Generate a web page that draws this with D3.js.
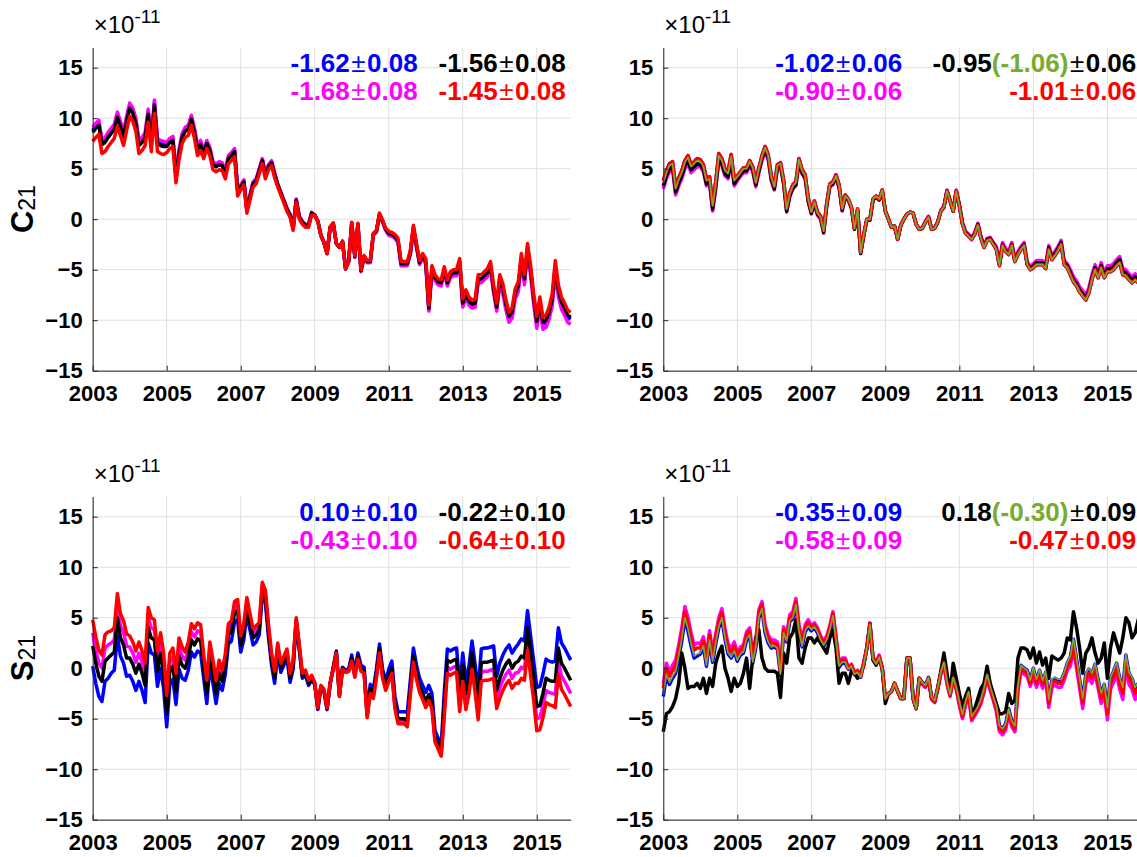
<!DOCTYPE html>
<html>
<head>
<meta charset="utf-8">
<script src="https://cdn.jsdelivr.net/npm/d3@7"></script>
<style>
  html, body { margin: 0; padding: 0; background: #ffffff; }
  svg { display: block; font-family: "Liberation Sans", Arial, Helvetica, sans-serif; }
  .expo { font-size: 24px; }
  .expo .pow { font-size: 19px; }
  .ylab .sub { font-size: 23px; }
</style>
</head>
<body>
<svg id="chart" width="1137" height="857"></svg>
<script>
// Monthly series, Jan 2003 .. Dec 2015, units of 1e-11
const startYear = 2003;
const xTickYears = [2003, 2005, 2007, 2009, 2011, 2013, 2015];
const yTickValues = [-15, -10, -5, 0, 5, 10, 15];
const yDomain = [-15, 17];

// ---- C21, left solution ----
const c21LBlue = [
  8.8, 9.2, 9.5, 7.6, 7.8, 8.3, 8.7, 9.1, 10.3, 9.4, 8.4, 9.9,
  11.2, 10.7, 9.7, 7.5, 7.8, 8.3, 10.6, 7.7, 11.5, 7.7, 7.5, 7.4,
  7.4, 7.8, 8.0, 4.4, 6.7, 8.3, 8.9, 9.1, 10.1, 8.8, 7.1, 7.6,
  6.6, 7.6, 6.9, 5.5, 5.3, 5.5, 5.4, 4.6, 6.1, 6.4, 6.8, 2.9,
  3.3, 3.8, 1.0, 2.3, 3.6, 3.9, 4.9, 5.9, 4.4, 5.3, 5.7, 4.5,
  3.4, 2.6, 1.8, 1.0, 0.4, -0.9, 1.9, 0.2, -0.3, -0.6, -0.6, 0.6,
  0.4, -0.2, -1.6, -2.3, -3.4, -0.8, -0.4, -2.4, -2.8, -2.2, -4.9, -4.2,
  -0.4, -3.7, -0.5, -5.1, -3.7, -4.2, -4.2, -1.5, -1.2, 0.5, -0.2, -1.0,
  -1.5, -1.6, -1.8, -2.2, -4.5, -4.5, -4.5, -3.4, -0.9, -2.7, -4.4, -3.7,
  -4.3, -8.9, -5.0, -5.9, -6.3, -6.4, -5.1, -6.4, -5.6, -5.4, -5.4, -4.3,
  -8.4, -7.5, -8.2, -8.5, -8.4, -6.0, -6.0, -5.7, -5.4, -4.7, -7.0, -8.8,
  -6.1, -7.0, -8.6, -9.8, -9.4, -7.5, -6.8, -4.0, -6.1, -3.0, -5.2, -8.0,
  -10.3, -8.4, -10.4, -10.2, -9.4, -8.1, -4.8, -7.2, -8.4, -9.0, -9.7, -9.9
];
const c21LMagenta = [
  9.1, 9.5, 9.8, 7.9, 8.1, 8.6, 9.0, 9.4, 10.6, 9.7, 8.7, 10.2,
  11.5, 11.0, 10.0, 7.8, 8.1, 8.6, 10.9, 8.0, 11.8, 8.0, 7.8, 7.7,
  7.6, 8.0, 8.2, 4.6, 6.9, 8.5, 9.1, 9.3, 10.3, 9.0, 7.3, 7.8,
  6.8, 7.8, 7.1, 5.7, 5.5, 5.7, 5.6, 4.8, 6.3, 6.6, 7.0, 3.1,
  3.4, 3.9, 1.1, 2.4, 3.7, 4.0, 5.0, 6.0, 4.5, 5.4, 5.8, 4.6,
  3.5, 2.7, 1.9, 1.1, 0.5, -0.8, 2.0, 0.3, -0.2, -0.5, -0.5, 0.7,
  0.4, -0.2, -1.6, -2.3, -3.4, -0.8, -0.4, -2.4, -2.8, -2.2, -4.9, -4.2,
  -0.5, -3.8, -0.6, -5.2, -3.8, -4.3, -4.3, -1.6, -1.3, 0.4, -0.3, -1.1,
  -1.6, -1.7, -1.9, -2.3, -4.6, -4.6, -4.6, -3.5, -1.0, -2.8, -4.5, -3.8,
  -4.5, -9.1, -5.2, -6.1, -6.5, -6.6, -5.3, -6.6, -5.8, -5.6, -5.6, -4.5,
  -8.7, -7.8, -8.5, -8.8, -8.7, -6.3, -6.3, -6.0, -5.7, -5.0, -7.3, -9.1,
  -6.5, -7.4, -9.0, -10.2, -9.8, -7.9, -7.2, -4.4, -6.5, -3.4, -5.6, -8.4,
  -10.8, -8.9, -10.9, -10.7, -9.9, -8.6, -5.3, -7.7, -8.9, -9.5, -10.2, -10.4
];
const c21LBlack = [
  8.6, 9.0, 9.3, 7.4, 7.6, 8.1, 8.5, 8.9, 10.1, 9.2, 8.2, 9.7,
  11.0, 10.5, 9.5, 7.3, 7.6, 8.1, 10.4, 7.5, 11.3, 7.5, 7.3, 7.2,
  7.2, 7.6, 7.8, 4.2, 6.5, 8.1, 8.7, 8.9, 9.9, 8.6, 6.9, 7.4,
  6.5, 7.5, 6.8, 5.4, 5.2, 5.4, 5.3, 4.5, 6.0, 6.3, 6.7, 2.8,
  3.2, 3.7, 0.9, 2.2, 3.5, 3.8, 4.8, 5.8, 4.3, 5.2, 5.6, 4.4,
  3.4, 2.6, 1.8, 1.0, 0.4, -0.9, 1.9, 0.2, -0.3, -0.6, -0.6, 0.6,
  0.4, -0.2, -1.6, -2.3, -3.4, -0.8, -0.4, -2.4, -2.8, -2.2, -4.9, -4.2,
  -0.4, -3.7, -0.5, -5.1, -3.7, -4.2, -4.2, -1.5, -1.2, 0.5, -0.2, -1.0,
  -1.4, -1.5, -1.7, -2.1, -4.4, -4.4, -4.4, -3.3, -0.8, -2.6, -4.3, -3.6,
  -4.2, -8.8, -4.9, -5.8, -6.2, -6.3, -5.0, -6.3, -5.5, -5.3, -5.3, -4.2,
  -8.3, -7.4, -8.1, -8.4, -8.3, -5.9, -5.9, -5.6, -5.3, -4.6, -6.9, -8.7,
  -5.9, -6.8, -8.4, -9.6, -9.2, -7.3, -6.6, -3.8, -5.9, -2.8, -5.0, -7.8,
  -10.1, -8.2, -10.2, -10.0, -9.2, -7.9, -4.6, -7.0, -8.2, -8.8, -9.5, -9.7
];
const c21LRed = [
  7.7, 8.1, 8.4, 6.5, 6.7, 7.2, 7.6, 8.0, 9.2, 8.3, 7.3, 8.8,
  10.2, 9.7, 8.7, 6.5, 6.8, 7.3, 9.6, 6.7, 10.5, 6.7, 6.5, 6.4,
  6.6, 7.0, 7.2, 3.6, 5.9, 7.5, 8.1, 8.3, 9.3, 8.0, 6.3, 6.8,
  6.0, 7.0, 6.3, 4.9, 4.7, 4.9, 4.8, 4.0, 5.5, 5.8, 6.2, 2.3,
  2.9, 3.4, 0.6, 1.9, 3.2, 3.5, 4.5, 5.5, 4.0, 4.9, 5.3, 4.1,
  3.2, 2.4, 1.6, 0.8, 0.2, -1.1, 1.7, 0.0, -0.5, -0.8, -0.8, 0.4,
  0.4, -0.2, -1.6, -2.3, -3.4, -0.8, -0.4, -2.4, -2.8, -2.2, -4.9, -4.2,
  -0.3, -3.6, -0.4, -5.0, -3.6, -4.1, -4.1, -1.4, -1.1, 0.6, -0.1, -0.9,
  -1.2, -1.3, -1.5, -1.9, -4.2, -4.2, -4.2, -3.1, -0.6, -2.4, -4.1, -3.4,
  -3.9, -8.5, -4.6, -5.5, -5.9, -6.0, -4.7, -6.0, -5.2, -5.0, -5.0, -3.9,
  -7.9, -7.0, -7.7, -8.0, -7.9, -5.5, -5.5, -5.2, -4.9, -4.2, -6.5, -8.3,
  -5.5, -6.4, -8.0, -9.2, -8.8, -6.9, -6.2, -3.4, -5.5, -2.4, -4.6, -7.4,
  -9.6, -7.7, -9.7, -9.5, -8.7, -7.4, -4.1, -6.5, -7.7, -8.3, -9.0, -9.2
];

// ---- C21, right solution ----
const c21RBlue = [
  3.8, 4.8, 5.5, 5.7, 3.2, 4.1, 4.8, 5.8, 6.3, 5.4, 5.7, 6.0,
  5.9, 5.4, 4.0, 4.2, 1.5, 3.7, 6.5, 6.0, 5.0, 4.7, 6.4, 4.0,
  4.3, 4.7, 5.1, 5.1, 5.8, 5.2, 3.7, 5.1, 6.3, 7.2, 6.4, 4.3,
  3.3, 5.4, 5.6, 3.9, 1.1, 2.6, 3.4, 3.7, 6.0, 4.9, 4.4, 2.1,
  0.8, 1.8, 0.7, 0.3, -1.1, 1.6, 3.5, 3.7, 4.4, 3.4, 1.1, 2.4,
  2.0, 1.2, -0.9, 1.0, -3.3, -1.5, 0.0, 0.0, 2.0, 2.3, 2.0, 2.9,
  0.8, 0.0, -0.8, -0.7, -2.0, -0.6, 0.0, 0.5, 0.7, 0.6, -0.5, -1.0,
  -0.9, -0.3, 0.2, -1.0, -0.9, -0.3, 0.8, 1.2, 2.8, 1.8, 0.8, 2.8,
  1.3, -0.5, -1.4, -1.7, -2.0, -1.5, -0.6, -1.9, -2.8, -2.1, -2.0, -2.5,
  -3.0, -4.6, -2.6, -3.2, -3.5, -2.6, -4.2, -3.5, -3.0, -2.6, -4.5, -5.0,
  -4.8, -4.5, -4.5, -4.5, -4.9, -3.0, -4.0, -3.6, -3.1, -2.5, -4.5, -4.8,
  -5.5, -6.2, -6.6, -7.2, -7.6, -8.0, -7.3, -6.0, -5.0, -5.8, -4.8, -5.8,
  -5.2, -5.2, -5.0, -4.6, -4.3, -5.5, -5.6, -6.0, -6.3, -6.0, -6.3, -6.5
];
const c21RMagenta = [
  3.0, 4.0, 4.7, 4.9, 2.4, 3.3, 4.0, 5.0, 5.5, 4.6, 4.9, 5.2,
  5.2, 4.7, 3.3, 3.5, 0.8, 3.0, 5.8, 5.3, 4.3, 4.0, 5.7, 3.3,
  3.8, 4.2, 4.6, 4.6, 5.3, 4.7, 3.2, 4.6, 5.8, 6.7, 5.9, 3.8,
  2.9, 5.0, 5.2, 3.5, 0.7, 2.2, 3.0, 3.3, 5.6, 4.5, 4.0, 1.7,
  0.5, 1.5, 0.4, 0.0, -1.4, 1.3, 3.2, 3.4, 4.1, 3.1, 0.8, 2.1,
  1.9, 1.1, -1.0, 0.9, -3.4, -1.6, -0.1, -0.1, 1.9, 2.2, 1.9, 2.8,
  0.8, 0.0, -0.8, -0.7, -2.0, -0.6, 0.0, 0.5, 0.7, 0.6, -0.5, -1.0,
  -0.8, -0.2, 0.3, -0.9, -0.8, -0.2, 0.9, 1.3, 2.9, 1.9, 0.9, 2.9,
  1.5, -0.3, -1.2, -1.5, -1.8, -1.3, -0.4, -1.7, -2.6, -1.9, -1.8, -2.3,
  -2.7, -4.3, -2.3, -2.9, -3.2, -2.3, -3.9, -3.2, -2.7, -2.3, -4.2, -4.7,
  -4.4, -4.1, -4.1, -4.1, -4.5, -2.6, -3.6, -3.2, -2.7, -2.1, -4.1, -4.4,
  -5.0, -5.7, -6.1, -6.7, -7.1, -7.5, -6.8, -5.5, -4.5, -5.3, -4.3, -5.3,
  -4.6, -4.6, -4.4, -4.0, -3.7, -4.9, -5.0, -5.4, -5.7, -5.4, -5.7, -5.9
];
const c21RBlack = [
  3.3, 4.3, 5.0, 5.2, 2.7, 3.6, 4.3, 5.3, 5.8, 4.9, 5.2, 5.5,
  5.4, 4.9, 3.5, 3.7, 1.0, 3.2, 6.0, 5.5, 4.5, 4.2, 5.9, 3.5,
  4.0, 4.4, 4.8, 4.8, 5.5, 4.9, 3.4, 4.8, 6.0, 6.9, 6.1, 4.0,
  3.0, 5.1, 5.3, 3.6, 0.8, 2.3, 3.1, 3.4, 5.7, 4.6, 4.1, 1.8,
  0.6, 1.6, 0.5, 0.1, -1.3, 1.4, 3.3, 3.5, 4.2, 3.2, 0.9, 2.2,
  1.9, 1.1, -1.0, 0.9, -3.4, -1.6, -0.1, -0.1, 1.9, 2.2, 1.9, 2.8,
  0.8, 0.0, -0.8, -0.7, -2.0, -0.6, 0.0, 0.5, 0.7, 0.6, -0.5, -1.0,
  -0.9, -0.3, 0.2, -1.0, -0.9, -0.3, 0.8, 1.2, 2.8, 1.8, 0.8, 2.8,
  1.4, -0.4, -1.3, -1.6, -1.9, -1.4, -0.5, -1.8, -2.7, -2.0, -1.9, -2.4,
  -2.9, -4.5, -2.5, -3.1, -3.4, -2.5, -4.1, -3.4, -2.9, -2.5, -4.4, -4.9,
  -4.6, -4.3, -4.3, -4.3, -4.7, -2.8, -3.8, -3.4, -2.9, -2.3, -4.3, -4.6,
  -5.3, -6.0, -6.4, -7.0, -7.4, -7.8, -7.1, -5.8, -4.8, -5.6, -4.6, -5.6,
  -4.9, -4.9, -4.7, -4.3, -4.0, -5.2, -5.3, -5.7, -6.0, -5.7, -6.0, -6.2
];
const c21RRed = [
  3.8, 4.8, 5.5, 5.7, 3.2, 4.1, 4.8, 5.8, 6.3, 5.4, 5.7, 6.0,
  5.9, 5.4, 4.0, 4.2, 1.5, 3.7, 6.5, 6.0, 5.0, 4.7, 6.4, 4.0,
  4.3, 4.7, 5.1, 5.1, 5.8, 5.2, 3.7, 5.1, 6.3, 7.2, 6.4, 4.3,
  3.3, 5.4, 5.6, 3.9, 1.1, 2.6, 3.4, 3.7, 6.0, 4.9, 4.4, 2.1,
  0.8, 1.8, 0.7, 0.3, -1.1, 1.6, 3.5, 3.7, 4.4, 3.4, 1.1, 2.4,
  2.0, 1.2, -0.9, 1.0, -3.3, -1.5, 0.0, 0.0, 2.0, 2.3, 2.0, 2.9,
  0.8, 0.0, -0.8, -0.7, -2.0, -0.6, 0.0, 0.5, 0.7, 0.6, -0.5, -1.0,
  -0.9, -0.3, 0.2, -1.0, -0.9, -0.3, 0.8, 1.2, 2.8, 1.8, 0.8, 2.8,
  1.3, -0.5, -1.4, -1.7, -2.0, -1.5, -0.6, -1.9, -2.8, -2.1, -2.0, -2.5,
  -3.0, -4.6, -2.6, -3.2, -3.5, -2.6, -4.2, -3.5, -3.0, -2.6, -4.5, -5.0,
  -4.8, -4.5, -4.5, -4.5, -4.9, -3.0, -4.0, -3.6, -3.1, -2.5, -4.5, -4.8,
  -5.5, -6.2, -6.6, -7.2, -7.6, -8.0, -7.3, -6.0, -5.0, -5.8, -4.8, -5.8,
  -5.2, -5.2, -5.0, -4.6, -4.3, -5.5, -5.6, -6.0, -6.3, -6.0, -6.3, -6.5
];
const c21RGreen = [
  3.6, 4.6, 5.3, 5.5, 3.0, 3.9, 4.6, 5.6, 6.1, 5.2, 5.5, 5.8,
  5.7, 5.2, 3.8, 4.0, 1.3, 3.5, 6.3, 5.8, 4.8, 4.5, 6.2, 3.8,
  4.2, 4.6, 5.0, 5.0, 5.7, 5.1, 3.6, 5.0, 6.2, 7.1, 6.3, 4.2,
  3.2, 5.3, 5.5, 3.8, 1.0, 2.5, 3.3, 3.6, 5.9, 4.8, 4.3, 2.0,
  0.7, 1.7, 0.6, 0.2, -1.2, 1.5, 3.4, 3.6, 4.3, 3.3, 1.0, 2.3,
  2.0, 1.2, -0.9, 1.0, -3.3, -1.5, 0.0, 0.0, 2.0, 2.3, 2.0, 2.9,
  0.8, 0.0, -0.8, -0.7, -2.0, -0.6, 0.0, 0.5, 0.7, 0.6, -0.5, -1.0,
  -0.9, -0.3, 0.2, -1.0, -0.9, -0.3, 0.8, 1.2, 2.8, 1.8, 0.8, 2.8,
  1.3, -0.5, -1.4, -1.7, -2.0, -1.5, -0.6, -1.9, -2.8, -2.1, -2.0, -2.5,
  -3.0, -4.6, -2.6, -3.2, -3.5, -2.6, -4.2, -3.5, -3.0, -2.6, -4.5, -5.0,
  -4.8, -4.5, -4.5, -4.5, -4.9, -3.0, -4.0, -3.6, -3.1, -2.5, -4.5, -4.8,
  -5.5, -6.2, -6.6, -7.2, -7.6, -8.0, -7.3, -6.0, -5.0, -5.8, -4.8, -5.8,
  -5.2, -5.2, -5.0, -4.6, -4.3, -5.5, -5.6, -6.0, -6.3, -6.0, -6.3, -6.5
];

// ---- S21, left solution ----
const s21LBlue = [
  0.2, -1.5, -2.8, -3.3, -1.3, -1.0, -0.5, -0.2, 3.2, 1.2, 0.5, -0.8,
  -0.7, -1.3, -2.2, -1.3, -2.2, -3.4, 2.5, 1.5, 1.3, -1.8, 0.0, -2.0,
  -5.8, -1.6, -1.1, -3.6, -0.1, -1.0, -1.2, -0.2, 1.6, 1.1, 1.7, 1.5,
  -1.0, -3.5, 0.3, -1.5, -3.5, -1.5, -2.2, -0.6, 2.4, 2.7, 4.6, 4.8,
  1.6, 2.8, 5.4, 3.8, 2.3, 2.6, 3.3, 7.3, 6.5, 3.1, 0.3, -1.5,
  1.6, -0.4, 0.3, 1.0, -1.4, -0.1, 4.5, 1.8, -1.0, -0.7, -1.7, -1.2,
  -1.6, -4.1, -1.9, -2.3, -4.1, -1.6, 0.1, 1.7, -2.6, 0.1, -0.2, -0.1,
  1.3, -0.3, 1.5, 0.3, 0.1, -4.3, -1.6, -2.1, -0.1, 2.4, -0.1, -1.3,
  -0.1, 0.7, -2.8, -4.3, -4.3, -4.3, -4.4, -1.2, 2.0, 0.3, -1.0, -1.7,
  -2.4, -1.7, -2.5, -6.2, -6.9, -7.8, -2.4, 1.9, 1.7, 1.9, 2.0, -1.9,
  1.5, -1.3, 0.2, 2.7, 0.4, -2.3, 1.9, 2.0, 2.0, 2.1, 2.2, -0.8,
  0.5, 1.3, 1.9, 2.3, 1.5, 2.0, 2.4, 2.9, 2.7, 5.7, 3.2, 0.7,
  -1.9, -1.8, -0.6, 0.9, 0.7, 0.6, 0.7, 4.0, 2.5, 2.0, 1.4, 0.8
];
const s21LMagenta = [
  3.5, 1.8, 0.5, 0.0, 2.0, 2.3, 2.5, 2.8, 6.2, 4.2, 3.5, 2.2,
  2.1, 1.5, 0.6, 1.5, 0.6, -0.6, 5.0, 4.0, 3.8, 0.7, 2.5, 0.5,
  -3.6, 0.6, 1.1, -1.4, 2.1, 1.2, 0.8, 1.8, 3.6, 3.1, 3.7, 3.5,
  0.7, -1.8, 2.0, 0.2, -1.8, 0.2, -0.7, 0.9, 3.9, 4.2, 6.1, 6.3,
  2.8, 4.0, 6.6, 5.0, 3.5, 3.8, 4.2, 8.2, 7.4, 4.0, 1.2, -0.6,
  2.3, 0.3, 1.0, 1.7, -0.7, 0.6, 4.8, 2.1, -0.7, -0.4, -1.4, -0.9,
  -1.5, -4.0, -1.8, -2.2, -4.0, -1.5, -0.1, 1.5, -2.8, -0.1, -0.4, -0.3,
  0.8, -0.8, 1.0, -0.2, -0.4, -4.8, -2.3, -2.8, -0.8, 1.7, -0.8, -2.0,
  -1.1, -0.3, -3.8, -5.3, -5.3, -5.3, -5.6, -2.4, 0.8, -0.9, -2.2, -2.9,
  -3.7, -3.0, -3.8, -7.1, -7.8, -8.6, -4.2, 0.1, -0.1, 0.1, 0.2, -3.7,
  -0.5, -3.3, -1.8, 0.7, -1.6, -4.3, -0.4, -0.3, -0.3, -0.2, -0.1, -3.1,
  -2.0, -1.2, -0.6, -0.2, -1.0, -0.5, -0.4, 0.1, -0.1, 2.9, 0.4, -2.1,
  -5.0, -4.9, -3.7, -2.2, -2.4, -2.5, -2.6, 0.7, -0.8, -1.3, -1.9, -2.5
];
const s21LBlack = [
  2.2, 0.5, -0.8, -1.3, 0.7, 1.0, 1.3, 1.6, 5.0, 3.0, 2.3, 1.0,
  1.0, 0.4, -0.5, 0.4, -0.5, -1.7, 4.0, 3.0, 2.8, -0.3, 1.5, -0.5,
  -4.5, -0.3, 0.2, -2.3, 1.2, 0.3, 0.0, 1.0, 2.8, 2.3, 2.9, 2.7,
  0.0, -2.5, 1.3, -0.5, -2.5, -0.5, -1.3, 0.3, 3.3, 3.6, 5.5, 5.7,
  2.3, 3.5, 6.1, 4.5, 3.0, 3.3, 3.8, 7.8, 7.0, 3.6, 0.8, -1.0,
  2.0, 0.0, 0.7, 1.4, -1.0, 0.3, 4.7, 2.0, -0.8, -0.5, -1.5, -1.0,
  -1.5, -4.0, -1.8, -2.2, -4.0, -1.5, 0.0, 1.6, -2.7, 0.0, -0.3, -0.2,
  1.0, -0.6, 1.2, 0.0, -0.2, -4.6, -2.0, -2.5, -0.5, 2.0, -0.5, -1.7,
  -0.8, 0.0, -3.5, -5.0, -5.0, -5.0, -5.2, -2.0, 1.2, -0.5, -1.8, -2.5,
  -3.3, -2.6, -3.4, -6.8, -7.5, -8.4, -3.5, 0.8, 0.6, 0.8, 0.9, -3.0,
  0.3, -2.5, -1.0, 1.5, -0.8, -3.5, 0.5, 0.6, 0.6, 0.7, 0.8, -2.2,
  -1.0, -0.2, 0.4, 0.8, 0.0, 0.5, 0.7, 1.2, 1.0, 4.0, 1.5, -1.0,
  -3.8, -3.7, -2.5, -1.0, -1.2, -1.3, -1.3, 2.0, 0.5, 0.0, -0.6, -1.2
];
const s21LRed = [
  4.8, 3.1, 1.8, 1.3, 3.3, 3.6, 3.7, 4.0, 7.4, 5.4, 4.7, 3.4,
  3.2, 2.6, 1.7, 2.6, 1.7, 0.5, 6.0, 5.0, 4.8, 1.7, 3.5, 1.5,
  -2.7, 1.5, 2.0, -0.5, 3.0, 2.1, 1.6, 2.6, 4.4, 3.9, 4.5, 4.3,
  1.3, -1.2, 2.6, 0.8, -1.2, 0.8, -0.2, 1.4, 4.4, 4.7, 6.6, 6.8,
  3.2, 4.4, 7.0, 5.4, 3.9, 4.2, 4.5, 8.5, 7.7, 4.3, 1.5, -0.3,
  2.5, 0.5, 1.2, 1.9, -0.5, 0.8, 5.0, 2.3, -0.5, -0.2, -1.2, -0.7,
  -1.4, -3.9, -1.7, -2.1, -3.9, -1.4, -0.1, 1.5, -2.8, -0.1, -0.4, -0.3,
  0.7, -0.9, 0.9, -0.3, -0.5, -4.9, -2.5, -3.0, -1.0, 1.5, -1.0, -2.2,
  -1.3, -0.5, -4.0, -5.5, -5.5, -5.5, -5.8, -2.6, 0.6, -1.1, -2.4, -3.1,
  -3.9, -3.2, -4.0, -7.3, -8.0, -8.7, -4.8, -0.5, -0.7, -0.5, -0.4, -4.3,
  -1.3, -4.1, -2.6, -0.1, -2.4, -5.1, -1.3, -1.2, -1.2, -1.1, -1.0, -4.0,
  -3.0, -2.2, -1.6, -1.2, -2.0, -1.5, -1.5, -1.0, -1.2, 1.8, -0.7, -3.2,
  -6.2, -6.1, -4.9, -3.4, -3.6, -3.7, -3.9, -0.6, -2.1, -2.6, -3.2, -3.8
];

// ---- S21, right solution ----
const s21RBlue = [
  -2.8, -0.8, -1.6, -1.0, -0.5, 1.0, 2.7, 4.8, 3.7, 2.2, 1.0, 1.2,
  1.4, 2.1, 0.2, 2.7, 0.6, 2.4, 4.0, 4.9, 2.9, 1.4, 1.0, 1.6,
  0.7, 1.3, 1.5, 2.8, 3.2, 0.5, 2.0, 5.0, 5.8, 3.5, 2.5, 2.0,
  2.1, 1.9, -0.7, 3.4, 2.6, 4.6, 4.9, 6.2, 3.6, 2.1, 3.6, 4.1,
  3.7, 4.0, 3.5, 2.7, 2.2, 2.7, 3.7, 5.1, 2.7, 0.1, 0.5, 0.5,
  -0.1, 0.2, -0.6, -0.4, -0.9, 0.4, 1.9, 4.3, 0.9, 0.4, 1.1, -0.1,
  -3.0, -2.5, -2.3, -1.5, -2.3, -3.0, -3.0, 1.0, 1.0, -3.0, -4.0, -1.0,
  -1.4, -1.7, -0.9, -2.9, -3.2, -1.9, -0.4, 0.6, -1.4, -2.6, -0.9, -1.9,
  -3.3, -4.6, -3.3, -2.3, -4.8, -4.3, -3.8, -3.1, -2.0, -0.6, -1.8, -2.8,
  -3.7, -5.7, -6.0, -5.5, -4.0, -5.2, -5.7, -1.7, 0.3, 0.0, -0.2, -1.2,
  0.0, -1.2, -0.2, -1.3, -0.4, -3.2, -1.2, -1.0, -1.2, -1.2, -0.5, 0.5,
  1.1, 2.9, 0.9, -1.1, -3.1, -0.6, -0.1, -0.6, 0.4, -1.1, -2.6, -1.6,
  -4.0, -1.0, -0.3, 0.5, -1.0, -2.0, 1.3, -0.5, -1.0, -2.0, -1.5, -1.8
];
const s21RMagenta = [
  -1.5, 0.5, -0.3, 0.3, 0.8, 2.3, 4.0, 6.1, 5.0, 3.5, 2.3, 2.5,
  2.4, 3.1, 1.2, 3.7, 1.6, 3.4, 5.0, 5.9, 3.9, 2.4, 2.0, 2.6,
  1.5, 2.1, 2.3, 3.6, 4.0, 1.3, 2.8, 5.8, 6.6, 4.3, 3.3, 2.8,
  2.8, 2.6, 0.0, 4.1, 3.3, 5.3, 5.6, 6.9, 4.3, 2.8, 4.3, 4.8,
  4.2, 4.5, 4.0, 3.2, 2.7, 3.2, 4.2, 5.6, 3.2, 0.6, 1.0, 1.0,
  0.1, 0.4, -0.4, -0.2, -0.7, 0.6, 2.1, 4.5, 1.1, 0.6, 1.3, 0.1,
  -3.0, -2.5, -2.3, -1.5, -2.3, -3.0, -3.0, 1.0, 1.0, -3.0, -4.0, -1.0,
  -1.6, -1.9, -1.1, -3.1, -3.4, -2.1, -0.6, 0.4, -1.6, -2.8, -1.1, -2.1,
  -3.7, -5.0, -3.7, -2.7, -5.2, -4.7, -4.2, -3.5, -2.4, -1.0, -2.2, -3.2,
  -4.3, -6.3, -6.6, -6.1, -4.6, -5.8, -6.3, -2.3, -0.3, -0.6, -0.8, -1.8,
  -0.7, -1.9, -0.9, -2.0, -1.1, -3.9, -1.9, -1.7, -1.9, -1.9, -1.2, -0.2,
  0.2, 2.0, 0.0, -2.0, -4.0, -1.5, -1.0, -1.5, -0.5, -2.0, -3.5, -2.5,
  -5.1, -2.1, -1.4, -0.6, -2.1, -3.1, 0.2, -1.6, -2.1, -3.1, -2.6, -2.9
];
const s21RBlack = [
  -6.3, -4.5, -4.3, -3.8, -3.0, -1.5, 1.5, 0.0, -2.0, -1.8, -1.8, -1.5,
  -2.0, -1.0, -2.5, -1.0, -1.8, 0.5, 1.5, 2.2, 0.0, -1.0, -2.3, -1.0,
  -1.8, -1.5, -0.5, 1.0, -2.0, 1.0, 3.0, 3.8, 1.0, 0.0, -0.3, -0.3,
  -0.3, -0.5, -2.9, 1.5, 0.5, 3.0, 3.5, 4.8, 1.0, 0.5, 2.0, 3.0,
  3.0, 2.5, 3.0, 2.5, 2.0, 1.5, 3.0, 3.8, 2.0, -1.5, -0.5, -0.5,
  -1.5, -0.3, -0.5, -1.0, -0.5, 0.3, 2.0, 4.4, 0.8, 0.3, 1.0, 0.0,
  -3.5, -2.5, -2.3, -1.5, -2.3, -3.0, -3.0, 1.0, 1.0, -3.0, -4.0, -1.0,
  -1.5, -1.8, -1.0, -3.0, -3.3, -2.0, -0.3, 1.5, -0.5, -2.5, 0.5, -1.0,
  -2.5, -3.8, -2.8, -2.0, -4.5, -4.0, -3.0, -2.0, -1.5, 0.2, -1.5, -2.5,
  -3.5, -4.5, -4.5, -4.3, -2.5, -3.5, -3.2, 1.0, 2.0, 2.0, 1.8, 1.0,
  2.0, 0.5, 1.6, 0.3, 1.0, -1.0, 1.2, 1.0, 0.8, 1.0, 1.5, 3.0,
  2.8, 5.6, 4.0, 2.0, -0.5, 1.5, 2.0, 3.0, 1.5, 0.5, 1.0, 2.5,
  -1.0, 2.0, 3.5, 2.5, 1.5, 3.0, 5.0, 4.5, 3.0, 3.5, 4.8, 3.0
];
const s21RRed = [
  -2.0, 0.0, -0.8, -0.2, 0.3, 1.8, 3.5, 5.6, 4.5, 3.0, 1.8, 2.0,
  2.0, 2.7, 0.8, 3.3, 1.2, 3.0, 4.6, 5.5, 3.5, 2.0, 1.6, 2.2,
  1.2, 1.8, 2.0, 3.3, 3.7, 1.0, 2.5, 5.5, 6.3, 4.0, 3.0, 2.5,
  2.5, 2.3, -0.3, 3.8, 3.0, 5.0, 5.3, 6.6, 4.0, 2.5, 4.0, 4.5,
  4.0, 4.3, 3.8, 3.0, 2.5, 3.0, 4.0, 5.4, 3.0, 0.4, 0.8, 0.8,
  0.0, 0.3, -0.5, -0.3, -0.8, 0.5, 2.0, 4.4, 1.0, 0.5, 1.2, 0.0,
  -3.0, -2.5, -2.3, -1.5, -2.3, -3.0, -3.0, 1.0, 1.0, -3.0, -4.0, -1.0,
  -1.5, -1.8, -1.0, -3.0, -3.3, -2.0, -0.5, 0.5, -1.5, -2.7, -1.0, -2.0,
  -3.5, -4.8, -3.5, -2.5, -5.0, -4.5, -4.0, -3.3, -2.2, -0.8, -2.0, -3.0,
  -4.0, -6.0, -6.3, -5.8, -4.3, -5.5, -6.0, -2.0, 0.0, -0.3, -0.5, -1.5,
  -0.3, -1.5, -0.5, -1.6, -0.7, -3.5, -1.5, -1.3, -1.5, -1.5, -0.8, 0.2,
  0.7, 2.5, 0.5, -1.5, -3.5, -1.0, -0.5, -1.0, 0.0, -1.5, -3.0, -2.0,
  -4.5, -1.5, -0.8, 0.0, -1.5, -2.5, 0.8, -1.0, -1.5, -2.5, -2.0, -2.3
];
const s21RGreen = [
  -2.6, -0.6, -1.4, -0.8, -0.3, 1.2, 2.9, 5.0, 3.9, 2.4, 1.2, 1.4,
  1.5, 2.2, 0.3, 2.8, 0.7, 2.5, 4.1, 5.0, 3.0, 1.5, 1.1, 1.7,
  0.8, 1.4, 1.6, 2.9, 3.3, 0.6, 2.1, 5.1, 5.9, 3.6, 2.6, 2.1,
  2.2, 2.0, -0.6, 3.5, 2.7, 4.7, 5.0, 6.3, 3.7, 2.2, 3.7, 4.2,
  3.8, 4.1, 3.6, 2.8, 2.3, 2.8, 3.8, 5.2, 2.8, 0.2, 0.6, 0.6,
  -0.1, 0.2, -0.6, -0.4, -0.9, 0.4, 1.9, 4.3, 0.9, 0.4, 1.1, -0.1,
  -3.0, -2.5, -2.3, -1.5, -2.3, -3.0, -3.0, 1.0, 1.0, -3.0, -4.0, -1.0,
  -1.4, -1.7, -0.9, -2.9, -3.2, -1.9, -0.4, 0.6, -1.4, -2.6, -0.9, -1.9,
  -3.3, -4.6, -3.3, -2.3, -4.8, -4.3, -3.8, -3.1, -2.0, -0.6, -1.8, -2.8,
  -3.7, -5.7, -6.0, -5.5, -4.0, -5.2, -5.7, -1.7, 0.3, 0.0, -0.2, -1.2,
  0.1, -1.1, -0.1, -1.2, -0.3, -3.1, -1.1, -0.9, -1.1, -1.1, -0.4, 0.6,
  1.2, 3.0, 1.0, -1.0, -3.0, -0.5, 0.0, -0.5, 0.5, -1.0, -2.5, -1.5,
  -3.9, -0.9, -0.2, 0.6, -0.9, -1.9, 1.4, -0.4, -0.9, -1.9, -1.4, -1.7
];

// Trend annotations: [text, colour] runs for each cell (row, column)
const c21LTrends = [
  [[["-1.62±0.08", "#0000ff"]], [["-1.56±0.08", "#000000"]]],
  [[["-1.68±0.08", "#ff00ff"]], [["-1.45±0.08", "#ff0000"]]]
];
const c21RTrends = [
  [[["-1.02±0.06", "#0000ff"]], [["-0.95", "#000000"], ["(-1.06)", "#77ac30"], ["±0.06", "#000000"]]],
  [[["-0.90±0.06", "#ff00ff"]], [["-1.01±0.06", "#ff0000"]]]
];
const s21LTrends = [
  [[["0.10±0.10", "#0000ff"]], [["-0.22±0.10", "#000000"]]],
  [[["-0.43±0.10", "#ff00ff"]], [["-0.64±0.10", "#ff0000"]]]
];
const s21RTrends = [
  [[["-0.35±0.09", "#0000ff"]], [["0.18", "#000000"], ["(-0.30)", "#77ac30"], ["±0.09", "#000000"]]],
  [[["-0.58±0.09", "#ff00ff"]], [["-0.47±0.09", "#ff0000"]]]
];

const COLORS = { blue: "#0000ff", magenta: "#ff00ff", black: "#000000", red: "#ff0000", green: "#77ac30" };

const panels = [
  { row: 0, col: 0, label: "C", sub: "21", trends: c21LTrends, leftColGap: 153,
    series: [["blue", c21LBlue], ["magenta", c21LMagenta], ["black", c21LBlack], ["red", c21LRed]] },
  { row: 0, col: 1, label: null, trends: c21RTrends, leftColGap: 239,
    series: [["blue", c21RBlue], ["magenta", c21RMagenta], ["black", c21RBlack], ["red", c21RRed], ["green", c21RGreen]] },
  { row: 1, col: 0, label: "S", sub: "21", trends: s21LTrends, leftColGap: 153,
    series: [["blue", s21LBlue], ["magenta", s21LMagenta], ["black", s21LBlack], ["red", s21LRed]] },
  { row: 1, col: 1, label: null, trends: s21RTrends, leftColGap: 239,
    series: [["blue", s21RBlue], ["magenta", s21RMagenta], ["black", s21RBlack], ["red", s21RRed], ["green", s21RGreen]] }
];

// Layout of the 2x2 grid
const colLeft = [92.7, 663.3];
const rowTop = [47.5, 496.5];
const plotW = 478;
const plotH = 323.2;

const svg = d3.select("#chart");
svg.append("rect").attr("width", 1137).attr("height", 857).attr("fill", "#ffffff");

const nMonths = c21LBlack.length;
const times = d3.range(nMonths).map(i => startYear + i / 12);

panels.forEach(p => {
  const left = colLeft[p.col], top = rowTop[p.row];
  const x = d3.scaleLinear().domain([startYear, times[nMonths - 1]]).range([left, left + plotW]);
  const y = d3.scaleLinear().domain(yDomain).range([top + plotH, top]);
  const g = svg.append("g");

  // grid
  const grid = g.append("g").attr("stroke", "#dfdfdf").attr("stroke-width", 1);
  grid.selectAll("line.vx").data(xTickYears).join("line")
    .attr("x1", d => x(d)).attr("x2", d => x(d)).attr("y1", top).attr("y2", top + plotH);
  grid.selectAll("line.hy").data(yTickValues).join("line")
    .attr("x1", left).attr("x2", left + plotW).attr("y1", d => y(d)).attr("y2", d => y(d));

  // series
  const line = d3.line().x((d, i) => x(times[i])).y(d => y(d));
  p.series.forEach(([name, vals]) => {
    g.append("path").datum(vals)
      .attr("fill", "none")
      .attr("stroke", COLORS[name])
      .attr("stroke-width", name === "green" ? 1.6 : 3.5)
      .attr("stroke-linejoin", "round")
      .attr("d", line);
  });

  // axes
  const xAxis = d3.axisBottom(x).tickValues(xTickYears).tickFormat(d3.format("d"))
    .tickSizeInner(-5).tickSizeOuter(0).tickPadding(15);
  const yAxis = d3.axisLeft(y).tickValues(yTickValues).tickFormat(d3.format("d"))
    .tickSizeInner(-5).tickSizeOuter(0).tickPadding(10);
  const gx = g.append("g").attr("transform", `translate(0,${top + plotH})`).call(xAxis);
  const gy = g.append("g").attr("transform", `translate(${left},0)`).call(yAxis);
  [gx, gy].forEach(a => {
    a.select(".domain").attr("stroke", "#262626").attr("stroke-width", 1);
    a.selectAll(".tick line").attr("stroke", "#262626").attr("stroke-width", 1);
    a.selectAll(".tick text").attr("fill", "#000").style("font-size", "22px").style("font-weight", "bold")
      .style("font-family", "'Liberation Sans', Arial, sans-serif");
  });

  // exponent label
  const ex = g.append("text").attr("class", "expo")
    .attr("x", left + 1).attr("y", top - 14.5).attr("fill", "#000");
  ex.append("tspan").text("×10");
  ex.append("tspan").attr("class", "pow").attr("dy", -10).text("-11");

  // y label
  if (p.label) {
    const cy = top + plotH / 2;
    const yl = g.append("text").attr("class", "ylab")
      .attr("transform", `translate(33,${cy}) rotate(-90)`)
      .attr("text-anchor", "middle").attr("fill", "#000");
    yl.append("tspan").style("font-size", "31px").style("font-weight", "bold").text(p.label);
    yl.append("tspan").attr("class", "sub").attr("dy", 2).text(p.sub);
  }

  // trend annotations
  const rightEdge = left + plotW - 5;
  const baselines = [top + 24, top + 52.5];
  p.trends.forEach((rowCells, r) => {
    rowCells.forEach((runs, c) => {
      const ax = c === 1 ? rightEdge : left + plotW - p.leftColGap;
      const t = g.append("text").attr("x", ax).attr("y", baselines[r])
        .attr("text-anchor", "end").style("font-size", "26px").style("font-weight", "bold");
      runs.forEach(([str, col]) => {
        const pieces = str.split("±");
        pieces.forEach((piece, k) => {
          if (k > 0) {
            t.append("tspan").attr("fill", col).style("font-weight", "normal")
              .attr("dx", 1.5).text("±");
            t.append("tspan").attr("fill", col).attr("dx", 1.5).text(piece);
          } else if (piece.length) {
            t.append("tspan").attr("fill", col).text(piece);
          }
        });
      });
    });
  });
});
</script>
</body>
</html>
